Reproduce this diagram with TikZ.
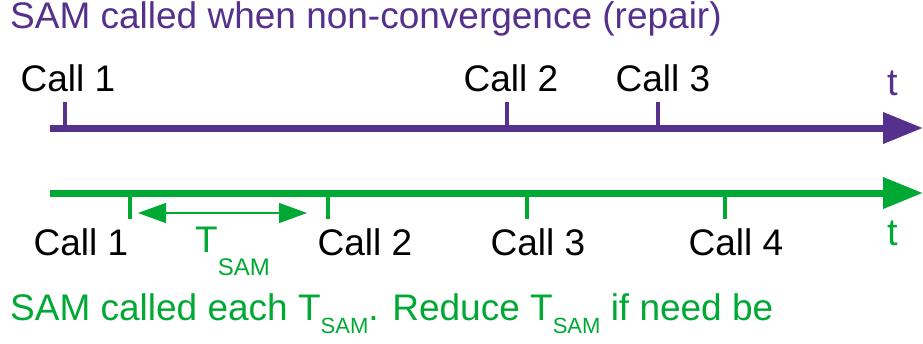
\documentclass[tikz,border=0pt]{standalone}
\usepackage{fontspec}
\setmainfont{Liberation Sans}
\usetikzlibrary{arrows.meta,positioning}
\definecolor{violeta}{HTML}{55308D}
\definecolor{verdesam}{HTML}{00A933}
\newcommand{\tsam}[2]{T\raisebox{-#1pt}{\fontsize{#2}{#2}\selectfont SAM}}
\tikzset{
  texto/.style={inner sep=0pt,font=\fontsize{37}{40}\selectfont},
  eje/.style={line width=7pt,-{Triangle[length=40pt,width=30pt]}},
  marca/.style={line width=4pt}
}

\begin{document}
\begin{tikzpicture}[x=1pt,y=-1pt]
\useasboundingbox (0,0) rectangle (923,343);
% linea de arriba: llamadas por no convergencia
\node[texto,anchor=base west,text=violeta] (titulo) at (10,28) {SAM called when non-convergence (repair)};
\coordinate (a0) at (50,128);
\coordinate (a1) at (923,128);
\draw[eje,violeta] (a0) -- (a1);
\node[texto,anchor=base west,text=violeta,font=\fontsize{38}{40}\selectfont] (ta) at (887,95) {t};
\foreach \x/\n/\lx in {65/1/68,507/2/511,658/3/663}{
  \coordinate (ma\n) at (\x,128);
  \draw[marca,violeta] (ma\n) -- ++(0,-26);
  \node[texto,anchor=base] (la\n) at (\lx,91) {Call \n};
}
% linea de abajo: llamadas periodicas
\coordinate (b0) at (50,193);
\coordinate (b1) at (923,193);
\draw[eje,verdesam] (b0) -- (b1);
\node[texto,anchor=base west,text=verdesam,font=\fontsize{38}{40}\selectfont] (tb) at (887,245) {t};
\foreach \x/\n/\lx in {130/1/81,328/2/365,527/3/538,725/4/736}{
  \coordinate (mb\n) at (\x,193);
  \draw[marca,verdesam] (mb\n) -- ++(0,26);
  \node[texto,anchor=base] (lb\n) at (\lx,255) {Call \n};
}
\coordinate (s0) at (138,213);
\coordinate (s1) at (307,213);
\draw[verdesam,line width=1.2pt,{Triangle[length=28pt,width=20pt]}-{Triangle[length=28pt,width=20pt]}] (s0) -- (s1);
\node[texto,anchor=base west,text=verdesam] (periodo) at (195,252) {\tsam{23}{24}};
\node[texto,anchor=base west,text=verdesam] (nota) at (10,320) {SAM called each \tsam{13}{22}. Reduce \tsam{13}{22} if need be};
\end{tikzpicture}
\end{document}
